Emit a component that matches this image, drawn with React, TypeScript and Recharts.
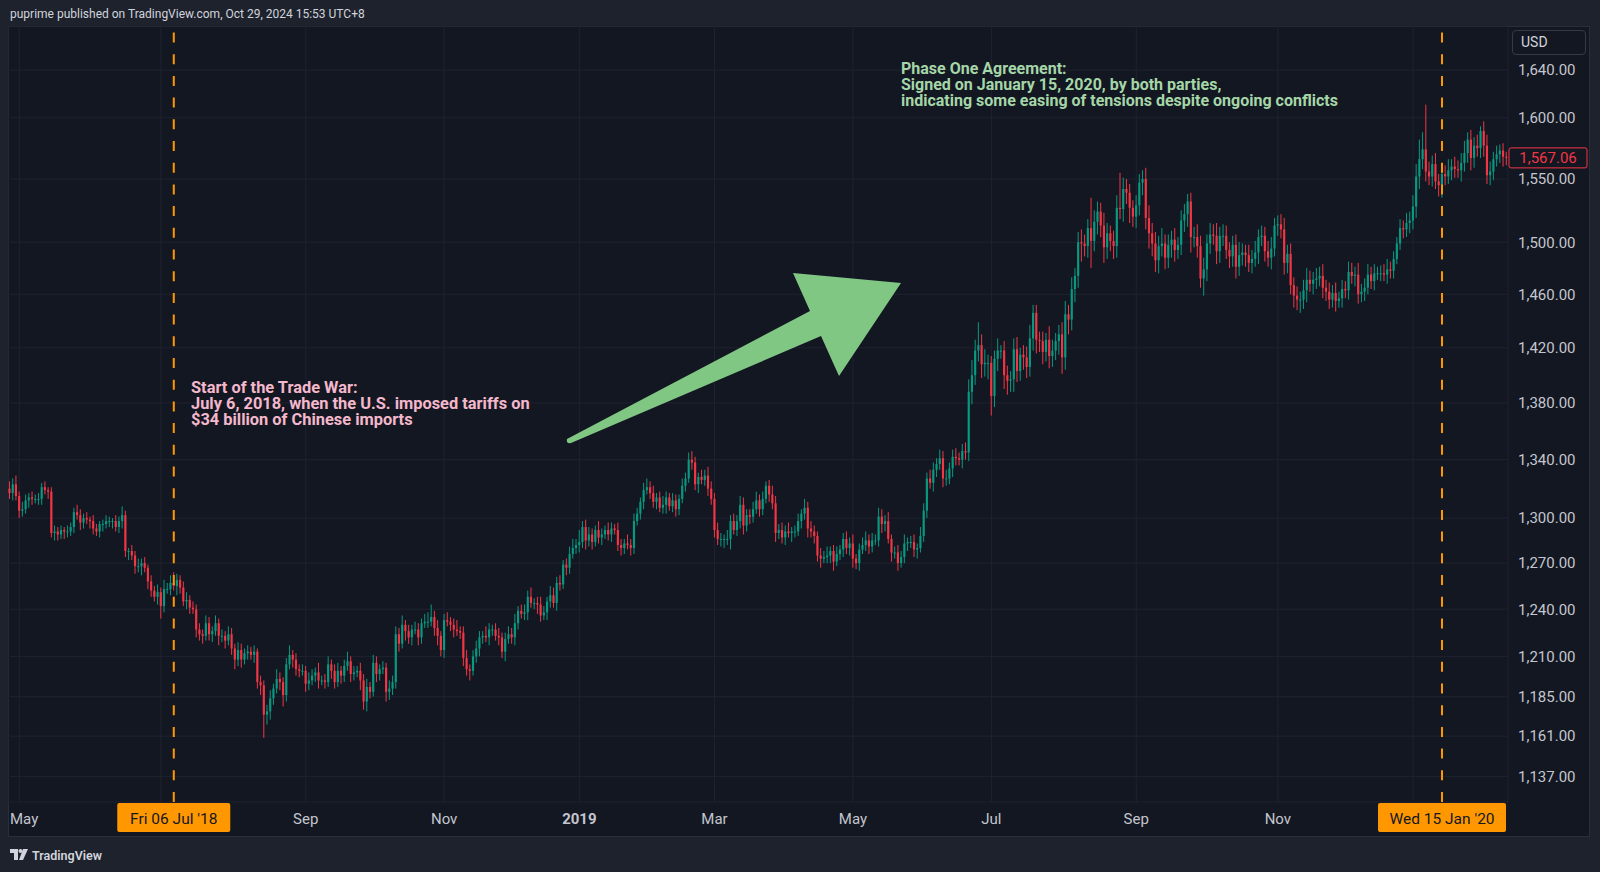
import React from 'react';
import { ComposedChart, Bar, XAxis, YAxis, CartesianGrid, ReferenceLine } from 'recharts';

// daily closes, XAUUSD, 26 Apr 2018 -> 12 Feb 2020 (one row = 10 sessions)
const closes = [
  1317, 1323, 1315, 1305, 1306, 1312, 1314, 1313, 1313, 1313,
  1321, 1319, 1318, 1290, 1291, 1289, 1292, 1291, 1291, 1294,
  1304, 1302, 1297, 1300, 1299, 1298, 1293, 1291, 1296, 1296,
  1298, 1298, 1298, 1294, 1298, 1302, 1278, 1278, 1275, 1268,
  1268, 1270, 1267, 1258, 1252, 1248, 1251, 1242, 1253, 1253,
  1257, 1255, 1259, 1254, 1245, 1246, 1241, 1240, 1227, 1224,
  1223, 1231, 1224, 1226, 1231, 1223, 1223, 1220, 1224, 1215,
  1208, 1214, 1208, 1212, 1213, 1211, 1213, 1194, 1192, 1174,
  1176, 1184, 1190, 1196, 1194, 1186, 1205, 1211, 1208, 1202,
  1201, 1201, 1193, 1195, 1198, 1200, 1195, 1195, 1194, 1205,
  1201, 1194, 1201, 1198, 1204, 1207, 1199, 1200, 1201, 1195,
  1182, 1191, 1188, 1206, 1199, 1202, 1203, 1188, 1190, 1194,
  1224, 1218, 1230, 1226, 1222, 1227, 1227, 1222, 1231, 1232,
  1232, 1235, 1228, 1223, 1214, 1233, 1232, 1230, 1227, 1226,
  1225, 1209, 1202, 1201, 1210, 1215, 1222, 1223, 1222, 1227,
  1227, 1223, 1222, 1213, 1221, 1224, 1222, 1231, 1239, 1237,
  1238, 1248, 1244, 1244, 1243, 1236, 1238, 1245, 1249, 1244,
  1257, 1256, 1269, 1267, 1276, 1280, 1282, 1284, 1294, 1285,
  1289, 1284, 1292, 1287, 1289, 1292, 1289, 1293, 1292, 1282,
  1280, 1283, 1282, 1280, 1298, 1303, 1311, 1319, 1321, 1317,
  1311, 1314, 1307, 1309, 1314, 1308, 1312, 1306, 1313, 1322,
  1327, 1340, 1338, 1323, 1328, 1326, 1329, 1320, 1313, 1292,
  1286, 1286, 1286, 1286, 1298, 1292, 1298, 1309, 1295, 1302,
  1301, 1306, 1312, 1306, 1313, 1322, 1316, 1310, 1290, 1292,
  1287, 1291, 1290, 1291, 1291, 1298, 1303, 1307, 1293, 1291,
  1288, 1275, 1273, 1274, 1275, 1278, 1271, 1276, 1279, 1286,
  1280, 1283, 1273, 1270, 1279, 1282, 1285, 1281, 1285, 1285,
  1301, 1296, 1298, 1286, 1277, 1277, 1270, 1274, 1283, 1284,
  1284, 1279, 1280, 1288, 1305, 1327, 1324, 1333, 1337, 1341,
  1327, 1327, 1334, 1342, 1341, 1340, 1346, 1345, 1388, 1400,
  1418, 1422, 1408, 1409, 1409, 1385, 1412, 1418, 1418, 1400,
  1396, 1397, 1419, 1403, 1415, 1413, 1406, 1427, 1446, 1426,
  1425, 1417, 1426, 1414, 1418, 1425, 1430, 1413, 1445, 1441,
  1464, 1474, 1500, 1499, 1497, 1511, 1501, 1516, 1524, 1513,
  1496, 1507, 1501, 1497, 1527, 1526, 1542, 1539, 1527, 1520,
  1529, 1547, 1550, 1519, 1507, 1499, 1486, 1497, 1499, 1488,
  1498, 1502, 1494, 1498, 1517, 1522, 1532, 1504, 1504, 1497,
  1472, 1479, 1499, 1506, 1505, 1493, 1505, 1505, 1494, 1489,
  1498, 1481, 1490, 1492, 1490, 1484, 1487, 1492, 1504, 1505,
  1493, 1488, 1495, 1513, 1514, 1510, 1484, 1491, 1467, 1459,
  1456, 1456, 1463, 1471, 1468, 1471, 1472, 1474, 1465, 1462,
  1456, 1461, 1455, 1457, 1464, 1463, 1477, 1474, 1475, 1460,
  1462, 1465, 1475, 1470, 1476, 1476, 1476, 1475, 1479, 1478,
  1487, 1499, 1511, 1510, 1515, 1517, 1528, 1552, 1566, 1574,
  1556, 1552, 1562, 1548, 1545, 1554, 1552, 1557, 1560, 1558,
  1557, 1563, 1571, 1582, 1567, 1577, 1575, 1589, 1577, 1553,
  1556, 1566, 1570, 1573, 1568, 1567.06,
];

// how far each high sits above the body
const wickUp = [
  5, 4, 6, 3, 5, 4, 3, 4, 3, 4,
  3, 4, 2, 3, 4, 3, 3, 2, 4, 3,
  3, 5, 4, 3, 4, 2, 4, 3, 2, 3,
  4, 3, 2, 4, 3, 6, 3, 2, 4, 3,
  5, 3, 4, 2, 4, 3, 5, 3, 6, 4,
  5, 7, 4, 3, 4, 5, 3, 4, 3, 4,
  3, 5, 4, 3, 5, 3, 4, 3, 5, 4,
  3, 5, 4, 3, 4, 3, 4, 2, 4, 3,
  4, 5, 3, 6, 4, 3, 4, 6, 3, 4,
  3, 4, 3, 5, 4, 3, 6, 3, 4, 5,
  3, 4, 5, 3, 4, 6, 3, 4, 3, 5,
  4, 5, 3, 5, 4, 3, 4, 3, 5, 4,
  5, 4, 6, 3, 4, 3, 5, 4, 3, 5,
  6, 8, 4, 5, 3, 4, 5, 3, 4, 6,
  3, 4, 5, 3, 4, 5, 4, 3, 6, 4,
  3, 4, 5, 3, 4, 5, 4, 6, 3, 4,
  5, 4, 6, 3, 4, 5, 4, 3, 6, 5,
  4, 5, 3, 4, 5, 6, 4, 8, 4, 5,
  5, 4, 3, 6, 4, 3, 5, 4, 3, 5,
  4, 3, 6, 4, 5, 4, 3, 5, 6, 4,
  5, 3, 4, 6, 4, 3, 5, 4, 3, 5,
  4, 5, 6, 4, 3, 5, 4, 6, 5, 4,
  5, 4, 3, 6, 4, 5, 4, 6, 5, 4,
  4, 5, 6, 4, 5, 3, 4, 6, 5, 4,
  5, 4, 6, 3, 4, 5, 3, 6, 4, 5,
  4, 3, 5, 4, 6, 3, 4, 5, 3, 4,
  5, 4, 6, 3, 4, 5, 6, 4, 5, 4,
  6, 5, 4, 6, 3, 4, 5, 4, 6, 3,
  4, 5, 3, 6, 5, 4, 6, 5, 4, 6,
  5, 6, 4, 5, 6, 4, 5, 6, 9, 11,
  8, 17, 8, 10, 6, 5, 6, 9, 4, 7,
  7, 6, 8, 9, 5, 7, 8, 10, 6, 6,
  6, 7, 5, 10, 8, 6, 7, 9, 10, 7,
  9, 6, 8, 10, 7, 7, 24, 9, 8, 7,
  10, 8, 6, 8, 10, 28, 9, 8, 7, 6,
  8, 7, 7, 9, 10, 8, 9, 8, 12, 7,
  8, 7, 9, 6, 8, 8, 6, 7, 8, 10,
  8, 9, 7, 9, 8, 10, 7, 9, 8, 6,
  7, 8, 10, 7, 6, 8, 7, 9, 6, 8,
  7, 8, 9, 6, 7, 8, 9, 7, 8, 6,
  7, 6, 8, 9, 7, 6, 8, 7, 9, 6,
  7, 6, 8, 5, 7, 6, 8, 7, 6, 9,
  6, 7, 8, 6, 7, 5, 6, 7, 8, 6,
  6, 5, 7, 6, 8, 7, 9, 10, 16, 14,
  37, 8, 7, 9, 6, 8, 7, 9, 6, 8,
  7, 8, 10, 6, 8, 7, 9, 4, 8, 9,
  8, 6, 7, 5, 6, 4,
];

// how far each low sits below the body
const wickDown = [
  4, 5, 3, 5, 4, 3, 5, 4, 3, 4,
  4, 3, 5, 3, 5, 4, 3, 5, 4, 3,
  4, 3, 5, 4, 3, 5, 4, 3, 4, 5,
  3, 4, 5, 3, 4, 5, 4, 6, 3, 5,
  4, 6, 3, 5, 4, 3, 5, 8, 4, 3,
  4, 3, 6, 4, 3, 5, 4, 3, 5, 4,
  5, 3, 4, 5, 3, 6, 4, 5, 3, 4,
  6, 4, 5, 3, 4, 3, 5, 4, 6, 14,
  6, 5, 4, 3, 5, 7, 4, 3, 5, 4,
  4, 3, 5, 4, 3, 4, 5, 3, 4, 3,
  5, 4, 3, 5, 4, 3, 5, 4, 3, 6,
  5, 6, 4, 3, 5, 4, 3, 6, 5, 4,
  4, 5, 3, 6, 4, 5, 3, 5, 4, 3,
  4, 3, 5, 6, 4, 5, 3, 4, 5, 3,
  4, 5, 4, 6, 3, 4, 5, 4, 3, 5,
  4, 3, 5, 4, 6, 3, 4, 5, 4, 3,
  4, 5, 3, 4, 6, 4, 3, 5, 4, 3,
  5, 4, 3, 5, 4, 3, 4, 5, 4, 6,
  4, 5, 3, 4, 5, 3, 4, 5, 3, 4,
  5, 4, 3, 5, 4, 3, 4, 5, 3, 4,
  4, 5, 3, 4, 6, 3, 4, 5, 4, 3,
  4, 3, 5, 4, 6, 3, 4, 5, 4, 5,
  4, 5, 6, 4, 7, 3, 4, 5, 6, 4,
  5, 4, 3, 5, 4, 3, 5, 4, 6, 4,
  4, 5, 3, 6, 4, 3, 5, 4, 6, 4,
  5, 4, 6, 3, 4, 5, 6, 3, 4, 5,
  4, 5, 6, 4, 5, 3, 4, 5, 4, 3,
  4, 6, 5, 3, 6, 4, 5, 3, 4, 5,
  4, 5, 6, 3, 4, 5, 4, 6, 5, 4,
  6, 5, 4, 6, 5, 4, 6, 5, 6, 9,
  7, 8, 10, 9, 12, 14, 8, 9, 6, 10,
  10, 8, 9, 8, 7, 9, 8, 7, 9, 10,
  8, 9, 7, 9, 8, 7, 10, 12, 9, 11,
  8, 10, 9, 14, 8, 9, 21, 8, 10, 9,
  12, 9, 8, 10, 9, 8, 10, 9, 12, 8,
  9, 8, 10, 9, 12, 10, 9, 10, 8, 9,
  8, 10, 9, 7, 8, 9, 10, 12, 8, 9,
  7, 13, 9, 8, 7, 10, 9, 8, 7, 9,
  8, 9, 7, 8, 9, 7, 8, 6, 9, 7,
  8, 7, 9, 6, 8, 7, 9, 8, 7, 9,
  8, 10, 7, 9, 6, 8, 7, 6, 8, 7,
  7, 6, 8, 5, 7, 6, 7, 6, 8, 7,
  6, 7, 5, 6, 7, 5, 6, 5, 7, 6,
  6, 4, 5, 7, 6, 8, 7, 9, 10, 8,
  8, 7, 8, 6, 9, 10, 7, 6, 8, 7,
  6, 9, 7, 8, 10, 8, 7, 8, 9, 7,
  8, 7, 6, 7, 8, 6,
];

const FIRST_OPEN = 1320;
const START_DAY = '2018-04-26';
const HOLIDAYS = ['2018-12-25', '2019-01-01', '2019-12-25', '2020-01-01'];

const priceTicks = [1137, 1161, 1185, 1210, 1240, 1270, 1300, 1340, 1380, 1420, 1460, 1500, 1550, 1600, 1640];
const tickMonths = ['2018-05', '2018-07', '2018-09', '2018-11', '2019-01', '2019-03', '2019-05', '2019-07', '2019-09', '2019-11', '2020-01'];
const tickLabels = ['May', 'Jul', 'Sep', 'Nov', '2019', 'Mar', 'May', 'Jul', 'Sep', 'Nov', '2020'];
const eventDays = ['2018-07-06', '2020-01-15'];
const eventLabels = ["Fri 06 Jul '18", "Wed 15 Jan '20"];

const UP = '#089981';
const DOWN = '#f23645';
const FONT = 'Roboto, "Noto Sans", sans-serif';

function tradingDays(n: number) {
  const out: string[] = [];
  const d = new Date(START_DAY + 'T00:00:00Z');
  while (out.length < n) {
    const wd = d.getUTCDay();
    const iso = d.toISOString().slice(0, 10);
    if (wd !== 0 && wd !== 6 && !HOLIDAYS.includes(iso)) out.push(iso);
    d.setUTCDate(d.getUTCDate() + 1);
  }
  return out;
}

const dates = tradingDays(closes.length);

const data = closes.map((close, i) => {
  const open = i === 0 ? FIRST_OPEN : closes[i - 1];
  const high = Math.max(open, close) + wickUp[i];
  const low = Math.min(open, close) - wickDown[i];
  return { i, date: dates[i], open, close, high, low, range: [low, high] };
});

const tickIdx = tickMonths.map((m) => dates.findIndex((d) => d.startsWith(m)));
const eventIdx = eventDays.map((d) => dates.indexOf(d));
const lastClose = closes[closes.length - 1];

const fmtPrice = (v: number) =>
  v.toLocaleString('en-US', { minimumFractionDigits: 2, maximumFractionDigits: 2 });

function Candle(props: any) {
  let { x, y, width, height, payload } = props;
  if (!payload || height == null) return null;
  if (height < 0) {
    y += height;
    height = -height;
  }
  const { open, close, high, low } = payload;
  const lh = Math.log(high);
  const ll = Math.log(low);
  const py = (v: number) => y + (height * (lh - Math.log(v))) / (lh - ll || 1);
  const color = close >= open ? UP : DOWN;
  const cx = x + width / 2;
  const top = py(Math.max(open, close));
  const bot = py(Math.min(open, close));
  const bw = Math.max(1, width * 0.72);
  return (
    <g>
      <line x1={cx} x2={cx} y1={y} y2={y + height} stroke={color} strokeWidth={1} />
      <rect x={cx - bw / 2} y={top} width={bw} height={Math.max(1, bot - top)} fill={color} />
    </g>
  );
}

function MonthTick(props: any) {
  const { x, y, payload } = props;
  const k = tickIdx.indexOf(payload.value);
  const label = tickLabels[k];
  // Jul '18 and 2020 sit under the orange date boxes
  if (eventIdx.some((e) => Math.abs(e - payload.value) < 20)) return null;
  const bold = /^\d{4}$/.test(label);
  const atEdge = x < 14;
  return (
    <text x={atEdge ? 2 : x} y={y} dy={22} textAnchor={atEdge ? 'start' : 'middle'}
      fill="#c3c6ce" fontSize={15} fontFamily={FONT} fontWeight={bold ? 700 : 400}>
      {label}
    </text>
  );
}

function EventBox(label: string, w: number) {
  return (props: any) => {
    const vb = props.viewBox || {};
    const cx = vb.x;
    const by = vb.y + vb.height + 1;
    return (
      <g>
        <rect x={cx - w / 2} y={by} width={w} height={29} rx={2} fill="#ff9800" />
        <text x={cx} y={by + 15} dy="0.36em" textAnchor="middle" fill="#131722"
          fontSize={15.5} fontFamily={FONT}>
          {label}
        </text>
      </g>
    );
  };
}

function LastPrice(props: any) {
  const vb = props.viewBox || {};
  const x0 = vb.x + vb.width + 1;
  const yc = vb.y;
  return (
    <g>
      <rect x={x0} y={yc - 10} width={78} height={20} rx={2} fill="#131722" stroke={DOWN} strokeWidth={1} />
      <text x={x0 + 39} y={yc} dy="0.36em" textAnchor="middle" fill={DOWN} fontSize={15} fontFamily={FONT}>
        {fmtPrice(lastClose)}
      </text>
    </g>
  );
}

export default function App() {
  return (
    <div style={{ position: 'absolute', left: 0, top: 0, width: 1600, height: 872, background: '#1e222d', overflow: 'hidden', fontFamily: FONT }}>
      <div style={{ position: 'absolute', left: 10, top: 6, fontSize: 12, lineHeight: '16px', color: '#d1d4dc' }}>
        puprime published on TradingView.com, Oct 29, 2024 15:53 UTC+8
      </div>

      <div style={{ position: 'absolute', left: 8, top: 26, width: 1582, height: 811, background: '#131722', boxShadow: 'inset 0 0 0 1px #2a2e39' }}>
        <ComposedChart width={1582} height={811} data={data} margin={{ top: 0, right: 0, bottom: 0, left: 0 }}
          barCategoryGap={0} barGap={0}>
          <CartesianGrid stroke="#1f2330" />
          <XAxis dataKey="i" type="category" ticks={tickIdx} interval={0} tick={<MonthTick />}
            tickLine={false} axisLine={false} tickSize={0} tickMargin={0} height={35} />
          <YAxis orientation="right" type="number" scale="log" domain={[1122, 1678]} allowDataOverflow
            ticks={priceTicks} tickFormatter={fmtPrice} tickLine={false} axisLine={false} tickSize={0} tickMargin={10}
            width={82} tick={{ fill: '#c3c6ce', fontSize: 15, fontFamily: FONT }} />
          <Bar dataKey="range" shape={<Candle />} isAnimationActive={false} />
          {eventIdx.map((e, k) => (
            <ReferenceLine key={k} x={e} stroke="#ff9800" strokeWidth={2} strokeDasharray="10 11.7"
              label={EventBox(eventLabels[k], k === 0 ? 113 : 128)} />
          ))}
          <ReferenceLine y={lastClose} stroke="none" label={LastPrice} />
        </ComposedChart>
      </div>

      <div style={{ position: 'absolute', left: 1512, top: 30, width: 64, height: 23, border: '1px solid #363a45', borderRadius: 4, color: '#d1d4dc', fontSize: 14, lineHeight: '23px', paddingLeft: 8 }}>
        USD
      </div>

      <div style={{ position: 'absolute', left: 191, top: 380, fontSize: 16.4, fontWeight: 700, lineHeight: '16px', color: '#f4b8cc', whiteSpace: 'pre' }}>
        {'Start of the Trade War:\nJuly 6, 2018, when the U.S. imposed tariffs on\n$34 billion of Chinese imports'}
      </div>

      <div style={{ position: 'absolute', left: 901, top: 61, fontSize: 16, fontWeight: 700, lineHeight: '16px', color: '#a5d6a7', whiteSpace: 'pre' }}>
        {'Phase One Agreement:\nSigned on January 15, 2020, by both parties,\nindicating some easing of tensions despite ongoing conflicts'}
      </div>

      <svg width={1600} height={872} style={{ position: 'absolute', left: 0, top: 0, pointerEvents: 'none' }}>
        <path d="M 567 439 Q 566 444 571 443 L 821 336 L 839 376 L 901 283 L 793 273 L 810 311 Z" fill="#81c784" />
        <g transform="translate(10,849)" fill="#d1d4dc">
          <path d="M0 0 H8 V11 H4 V4 H0 Z" />
          <circle cx={10.5} cy={2} r={2} />
          <path d="M13 0 H18 L13 11 H9 Z" />
        </g>
        <text x={32} y={855} dy="0.36em" fill="#d1d4dc" fontSize={12.5} fontWeight={600} fontFamily={FONT}>TradingView</text>
      </svg>
    </div>
  );
}
